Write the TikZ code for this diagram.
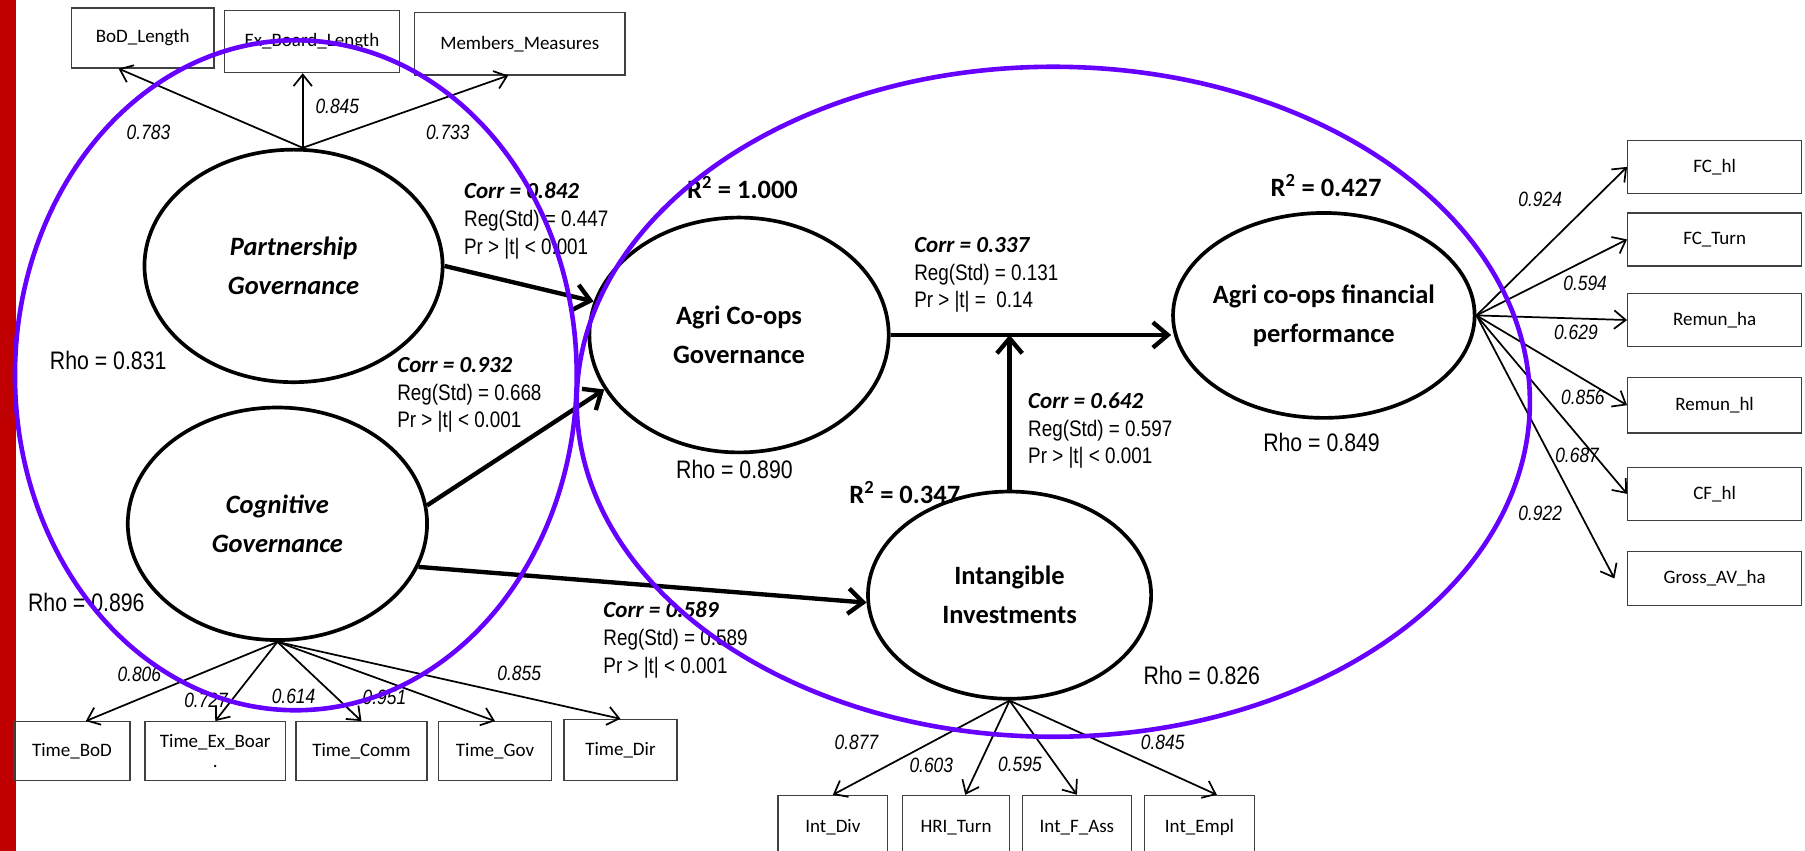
\documentclass[tikz,border=0pt]{standalone}
\usepackage{fontspec}
\newfontfamily\narrowfont{Liberation Sans}[FakeStretch=0.84]
\newfontfamily\calfont{Carlito}
\usepackage{tikz}
\usetikzlibrary{shapes.geometric, arrows.meta}
\definecolor{groupviolet}{RGB}{102,0,255}
\definecolor{barred}{RGB}{192,0,0}
\definecolor{boxgray}{RGB}{64,64,64}
\newcommand{\corrline}[1]{{\calfont\bfseries\itshape\fontsize{20}{24}\selectfont Corr = #1}}
\tikzset{latent/.style = {ellipse,draw,line width=3.2pt,inner sep=-12pt,align=center,font=\calfont\bfseries\fontsize{23}{34}\selectfont},
  latentit/.style = {latent,font=\calfont\bfseries\itshape\fontsize{23}{34}\selectfont},
  indic/.style = {rectangle,draw=boxgray,line width=1.2pt,inner sep=0pt,font=\calfont\fontsize{16.5}{17}\selectfont},
  regarrow/.style = {line width=3.8pt,-{Straight Barb[length=13pt,width=22pt]}},
  loadarrow/.style = {line width=1.5pt,-{Straight Barb[length=10pt,width=16pt]}},
  loading/.style = {inner sep=0pt,font=\narrowfont\itshape\fontsize{18}{20}\selectfont},
  rho/.style = {inner sep=0pt,font=\narrowfont\fontsize{22}{24}\selectfont},
  rsq/.style = {inner sep=0pt,font=\calfont\bfseries\fontsize{23}{26}\selectfont},
  stats/.style = {anchor=west,align=left,inner sep=0pt,font=\narrowfont\fontsize{19.5}{24}\selectfont},
  group/.style = {draw=groupviolet,line width=4pt}}

\begin{document}
\begin{tikzpicture}[x=1pt,y=-1pt]
                \useasboundingbox (0,0) rectangle (1568,739);
                \clip (0,0) rectangle (1568,739);
                \fill[barred] (0,0) rectangle (14,739);

                \node[latentit,minimum width=259pt,minimum height=202pt] (pg) at (255,231) {Partnership\\Governance};
                \node[latentit,minimum width=260pt,minimum height=202pt] (cg) at (241,455) {Cognitive\\Governance};
                \node[latent,minimum width=260pt,minimum height=204pt] (ag) at (642,291) {Agri Co-ops\\Governance};
                \node[latent,minimum width=246pt,minimum height=180pt] (ii) at (877,517) {Intangible\\Investments};
                \node[latent,minimum width=262pt,minimum height=178pt] (fp) at (1150,274) {Agri co-ops financial\\performance};

                \node[indic,minimum width=124pt,minimum height=52pt] (bod) at (124,33) {BoD\_Length};
                \node[indic,minimum width=152pt,minimum height=54pt] (exb) at (271,36) {Ex\_Board\_Length};
                \node[indic,minimum width=183pt,minimum height=54pt] (mem) at (451.5,38) {Members\_Measures};

                \node[indic,minimum width=101pt,minimum height=51pt] (tbod) at (62.5,652.5) {Time\_BoD};
                \node[indic,minimum width=122pt,minimum height=51pt,align=center] (tex) at (187,652.5) {Time\_Ex\_Boar\\.};
                \node[indic,minimum width=114pt,minimum height=51pt] (tcom) at (314,652.5) {Time\_Comm};
                \node[indic,minimum width=98pt,minimum height=51pt] (tgov) at (430,652.5) {Time\_Gov};
                \node[indic,minimum width=98pt,minimum height=53pt] (tdir) at (539,651.5) {Time\_Dir};

                \node[indic,minimum width=95pt,minimum height=56pt] (idiv) at (723.5,719) {Int\_Div};
                \node[indic,minimum width=93pt,minimum height=56pt] (ihri) at (830.5,719) {HRI\_Turn};
                \node[indic,minimum width=95pt,minimum height=56pt] (ifas) at (935.5,719) {Int\_F\_Ass};
                \node[indic,minimum width=96pt,minimum height=56pt] (iemp) at (1042,719) {Int\_Empl};

                \node[indic,minimum width=151pt,minimum height=46pt] (fch) at (1489.5,145) {FC\_hl};
                \node[indic,minimum width=151pt,minimum height=46pt] (fct) at (1489.5,208) {FC\_Turn};
                \node[indic,minimum width=151pt,minimum height=46pt] (rha) at (1489.5,278) {Remun\_ha};
                \node[indic,minimum width=151pt,minimum height=48pt] (rhl) at (1489.5,352) {Remun\_hl};
                \node[indic,minimum width=151pt,minimum height=46pt] (cfh) at (1489.5,429) {CF\_hl};
                \node[indic,minimum width=151pt,minimum height=47pt] (gav) at (1489.5,502.5) {Gross\_AV\_ha};

                \draw[loadarrow] ([xshift=8pt]pg.north) -- ([xshift=-21pt]bod.south);
                \draw[loadarrow] ([xshift=8pt]pg.north) -- ([xshift=-8pt]exb.south);
                \draw[loadarrow] ([xshift=8pt]pg.north) -- ([xshift=-10pt]mem.south);
                \draw[loadarrow] (cg.south) -- ([xshift=12pt]tbod.north);
                \draw[loadarrow] (cg.south) -- (tex.north);
                \draw[loadarrow] (cg.south) -- (tcom.north);
                \draw[loadarrow] (cg.south) -- (tgov.north);
                \draw[loadarrow] (cg.south) -- (tdir.north);
                \draw[loadarrow] (ii.south) -- (idiv.north);
                \draw[loadarrow] (ii.south) -- ([xshift=8pt]ihri.north);
                \draw[loadarrow] (ii.south) -- (ifas.north);
                \draw[loadarrow] (ii.south) -- ([xshift=15pt]iemp.north);
                \draw[loadarrow] (fp.east) -- (fch.west);
                \draw[loadarrow] (fp.east) -- (fct.west);
                \draw[loadarrow] (fp.east) -- (rha.west);
                \draw[loadarrow] (fp.east) -- (rhl.west);
                \draw[loadarrow] (fp.east) -- (cfh.west);
                \draw[loadarrow] (fp.east) -- ([xshift=-11pt]gav.west);

                \node[loading] (l1) at (129,115) {0.783};
                \node[loading] (l2) at (293,92) {0.845};
                \node[loading] (l3) at (389,115) {0.733};
                \node[loading] (l4) at (121,586) {0.806};
                \node[loading] (l5) at (179,608) {0.727};
                \node[loading] (l6) at (255,605) {0.614};
                \node[loading] (l7) at (334,606) {0.951};
                \node[loading] (l8) at (451,585) {0.855};
                \node[loading] (l9) at (744,645) {0.877};
                \node[loading] (l10) at (809,665) {0.603};
                \node[loading] (l11) at (886,664) {0.595};
                \node[loading] (l12) at (1010,645) {0.845};
                \node[loading] (l13) at (1338,173) {0.924};
                \node[loading] (l14) at (1377,246) {0.594};
                \node[loading] (l15) at (1369,289) {0.629};
                \node[loading] (l16) at (1375,345) {0.856};
                \node[loading] (l17) at (1370,396) {0.687};
                \node[loading] (l18) at (1338,446) {0.922};

                \draw[regarrow] (pg.east) -- (ag.167);
                \draw[regarrow] (cg.7) -- (ag.202);
                \draw[regarrow] (cg.343) -- (ii.183);
                \draw[regarrow] (ag.east) -- (ag.east -| fp.west);
                \draw[regarrow] (ii.north) -- (ii.north |- ag.east);

                \node[stats] (s1) at (403,192) {\corrline{0.842}\\Reg(Std) = 0.447\\Pr > |t| < 0.001};
                \node[stats] (s2) at (345,343) {\corrline{0.932}\\Reg(Std) = 0.668\\Pr > |t| < 0.001};
                \node[stats] (s3) at (524,556) {\corrline{0.589}\\Reg(Std) = 0.589\\Pr > |t| < 0.001};
                \node[stats] (s4) at (794,239) {\corrline{0.337}\\Reg(Std) = 0.131\\Pr > |t| = \ 0.14};
                \node[stats] (s5) at (893,374) {\corrline{0.642}\\Reg(Std) = 0.597\\Pr > |t| < 0.001};

                \node[rho] (r1) at (94,313) {Rho = 0.831};
                \node[rho] (r2) at (75,523) {Rho = 0.896};
                \node[rho] (r3) at (638,408) {Rho = 0.890};
                \node[rho] (r4) at (1148,384) {Rho = 0.849};
                \node[rho] (r5) at (1044,587) {Rho = 0.826};

                \node[rsq] (q1) at (645,163) {R\textsuperscript{2} = 1.000};
                \node[rsq] (q2) at (786,428) {R\textsuperscript{2} = 0.347};
                \node[rsq] (q3) at (1152,161) {R\textsuperscript{2} = 0.427};

                \draw[group] (257,326) ellipse [x radius=244pt,y radius=291pt];
                \draw[group] (915,349) ellipse [x radius=414pt,y radius=291pt];
            \end{tikzpicture}
\end{document}
